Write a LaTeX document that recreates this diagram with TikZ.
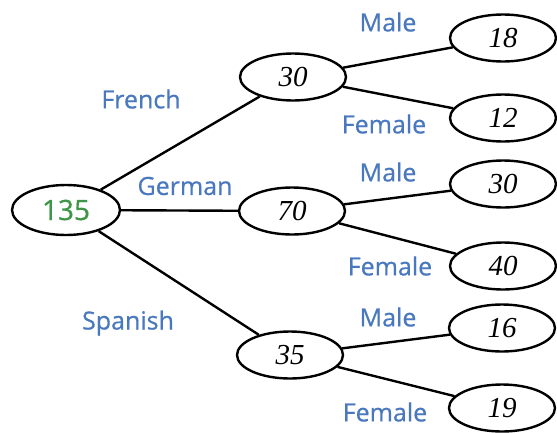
\documentclass[tikz,border=0pt]{standalone}
\usepackage{fontspec}
\setmainfont{Open Sans}
\newfontfamily\handfont{Liberation Serif}
\newfontfamily\labelfont[FakeBold=0.6]{Open Sans}
\usetikzlibrary{shapes.geometric}
\definecolor{labelblue}{RGB}{74,120,190}
\definecolor{rootgreen}{RGB}{62,150,72}

\begin{document}
\begin{tikzpicture}[x=1pt,y=-1pt]

\tikzset{vertex/.style = {shape=ellipse,draw,line width=2.4pt,minimum width=106pt,minimum height=47pt,inner sep=0pt,font=\handfont\itshape\fontsize{29}{29}\selectfont}}
\tikzset{edge/.style = {line width=2.4pt}}
\tikzset{branch/.style = {text=labelblue,font=\labelfont\fontsize{25}{25}\selectfont}}
\useasboundingbox (0,0) rectangle (557,432);
%verticies
\node[vertex, text=rootgreen, font=\labelfont\fontsize{28}{28}\selectfont, minimum width=108pt, minimum height=50pt] (all) at (66,210) {135};
\node[vertex] (french) at (293,77) {30};
\node[vertex] (german) at (292,211) {70};
\node[vertex] (spanish) at (290,355) {35};
\node[vertex] (fm) at (503,38) {18};
\node[vertex] (ff) at (503,118) {12};
\node[vertex] (gm) at (503,184) {30};
\node[vertex] (gf) at (503,266) {40};
\node[vertex] (sm) at (502,328) {16};
\node[vertex] (sf) at (502,408) {19};
%labels
\node[branch] (lfrench) at (141,99) {French};
\node[branch] (lgerman) at (185,186) {German};
\node[branch] (lspanish) at (128,323) {Spanish};
\node[branch] (lfm) at (388,22) {Male};
\node[branch] (lff) at (384,124) {Female};
\node[branch] (lgm) at (388,172) {Male};
\node[branch] (lgf) at (390,266) {Female};
\node[branch] (lsm) at (388,317) {Male};
\node[branch] (lsf) at (385,412) {Female};
%edges
\path [edge] (all) edge (french) edge (german) edge (spanish);
\path [edge] (french) edge (fm) edge (ff);
\path [edge] (german) edge (gm) edge (gf);
\path [edge] (spanish) edge (sm) edge (sf);
\end{tikzpicture}
\end{document}
